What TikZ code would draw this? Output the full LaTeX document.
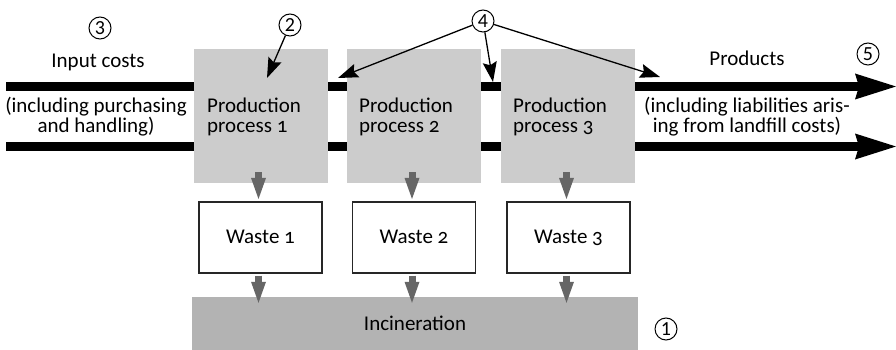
\documentclass[tikz,border=0pt]{standalone}
\usepackage{fontspec}
\setmainfont{Carlito}[Numbers=OldStyle]
\newfontfamily\circfont{Carlito}[Numbers=Lining]
\usetikzlibrary{arrows.meta}
\definecolor{procgray}{HTML}{CCCCCC}
\definecolor{incgray}{HTML}{B3B3B3}
\definecolor{arrgray}{HTML}{666666}
\begin{document}
\begin{tikzpicture}[x=1pt,y=-1pt,
  every node/.style={font=\fontsize{21}{20}\selectfont},
  proc/.style={fill=procgray, draw=none, minimum width=134pt, minimum height=134pt, inner sep=0pt},
  ptext/.style={align=left, inner sep=0pt, anchor=west},
  ctext/.style={align=center, inner sep=0pt},
  wastebox/.style={draw=black!85, line width=1.1pt, fill=white, minimum width=123pt, minimum height=71pt, inner sep=0pt, text height=13pt, text depth=2pt},
  incin/.style={fill=incgray, minimum width=446pt, minimum height=53pt, inner sep=0pt, text height=14pt, text depth=1pt},
  flow/.style={line width=9.5pt, -{Stealth[length=41pt,width=26pt,inset=4pt,line width=0pt]}},
  grayarr/.style={draw=arrgray, line width=7pt, -{Triangle[length=21pt,width=15pt,line width=0pt]}, color=arrgray},
  callout/.style={line width=1.3pt, -{Stealth[length=20pt,width=14pt,inset=3pt]}},
  circnum/.style={font=\circfont\fontsize{20}{20}\selectfont, circle, draw, line width=1pt, minimum size=22pt, inner sep=0pt, text height=12.5pt, text depth=0pt}
]
\useasboundingbox (0,0) rectangle (896,350);

% flows (bars)
\coordinate (in1) at (6,86.5);
\coordinate (out1) at (896,86.5);
\coordinate (in2) at (6,146.5);
\coordinate (out2) at (896,146.5);
\draw[flow] (in1) -- (out1);
\draw[flow] (in2) -- (out2);

% process boxes
\node[proc] (p1) at (261,116) {};
\node[proc] (p2) at (414,116) {};
\node[proc] (p3) at (568,116) {};
\node[ptext] (pt1) at (207,117) {Production\\process 1};
\node[ptext] (pt2) at (359,117) {Production\\process 2};
\node[ptext] (pt3) at (513,117) {Production\\process 3};

% flow texts
\node[ctext, anchor=base] (inlab) at (98,68) {Input costs};
\node[ctext] (indesc) at (96,117) {(including purchasing\\and handling)};
\node[ctext, anchor=base] (outlab) at (747,66) {Products};
\node[ctext] (outdesc) at (747,117) {(including liabilities aris-\\ing from landfill costs)};

% waste boxes
\node[wastebox] (w1) at (260.5,237.5) {Waste 1};
\node[wastebox] (w2) at (414,237.5) {Waste 2};
\node[wastebox] (w3) at (568.5,237.5) {Waste 3};

% incineration
\node[incin] (inc) at (415,323.5) {Incineration};

% gray arrows
\foreach \p/\w in {p1/w1,p2/w2,p3/w3}{
  \draw[grayarr] ([xshift=-2pt,yshift=11pt]\p.south -| \w.north) -- ([xshift=-2pt,yshift=2.5pt]\w.north);
  \draw[grayarr] ([xshift=-2pt,yshift=-2pt]\w.south) -- ([xshift=-2pt,yshift=-6pt]\w.south |- inc.north);
}

% circled numbers
\node[circnum] (c1) at (666,329) {1};
\node[circnum] (c2) at (290,25) {2};
\node[circnum] (c3) at (100,28) {3};
\node[circnum] (c4) at (483,21) {4};
\node[circnum] (c5) at (868,54) {5};

% callout arrows
\coordinate (t2) at (267,78);
\coordinate (t4a) at (338,78);
\coordinate (t4b) at (493,82);
\coordinate (t4c) at (660,77);
\draw[callout] (c2) -- (t2);
\draw[callout] (c4) -- (t4a);
\draw[callout] (c4) -- (t4b);
\draw[callout] (c4) -- (t4c);
\end{tikzpicture}
\end{document}
